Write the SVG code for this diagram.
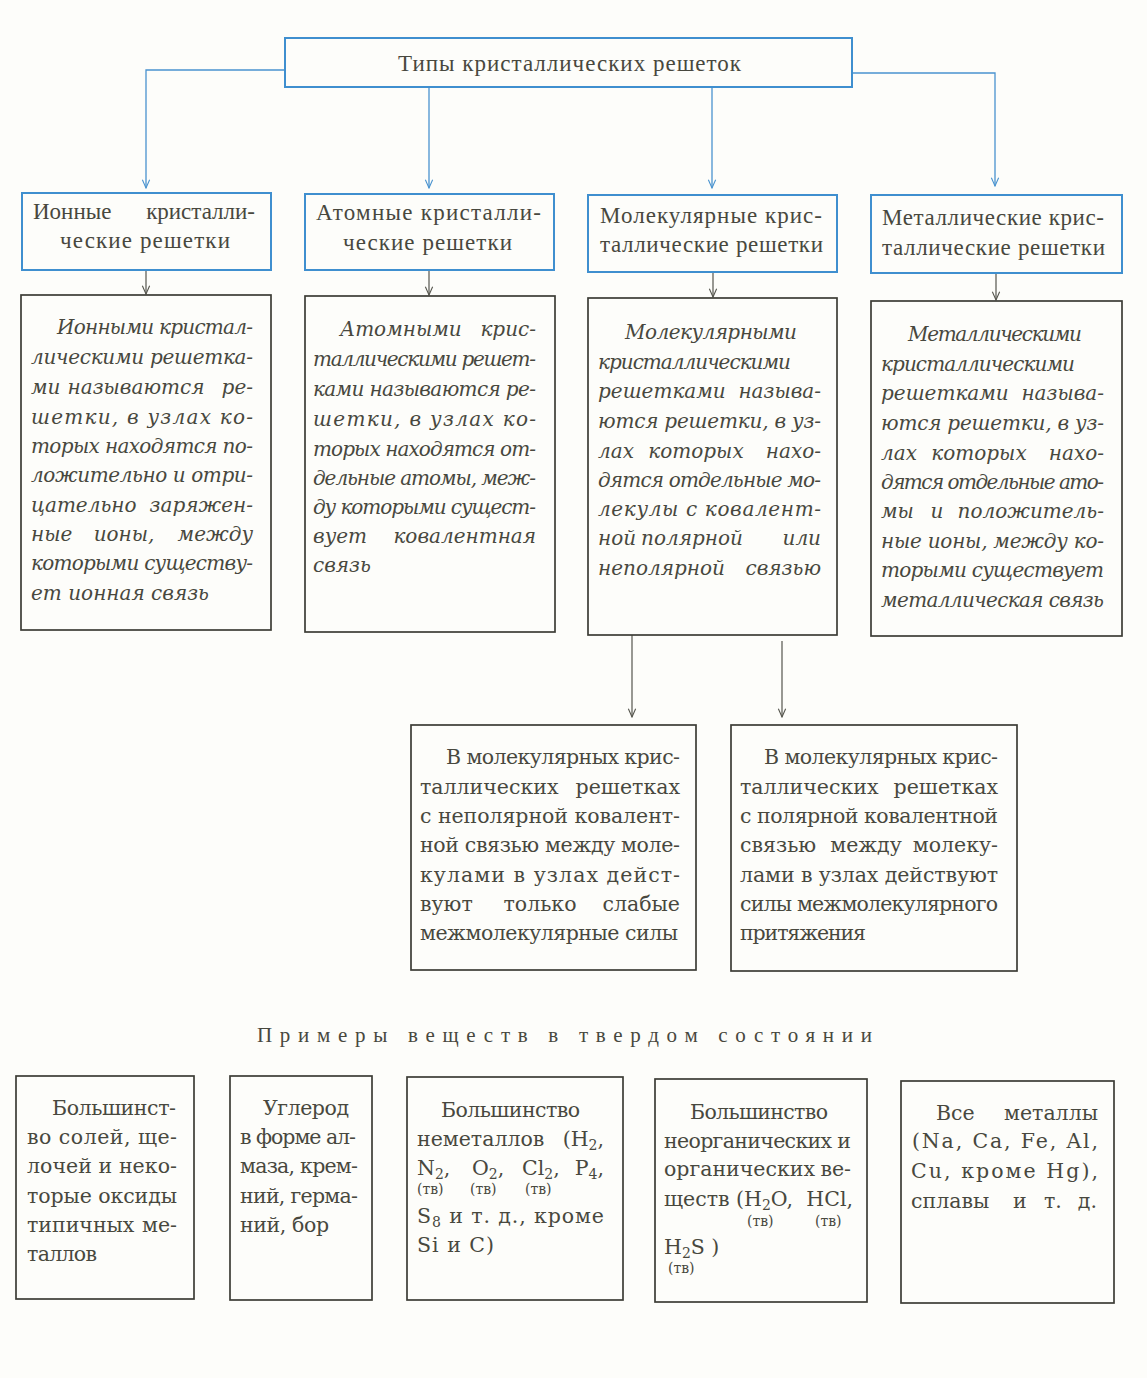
<svg xmlns="http://www.w3.org/2000/svg" width="1147" height="1378" viewBox="0 0 1147 1378">
<style>
.bg{fill:#fdfdfa}
.bb{fill:none;stroke:#3f8fcf;stroke-width:2}
.kb{fill:none;stroke:#3c3c35;stroke-width:1.7}
.bl{fill:none;stroke:#4a93cf;stroke-width:1.3}
.gl{fill:none;stroke:#55554d;stroke-width:1.2}
text{fill:#48483e}
.hd{font-family:"Liberation Serif",serif;font-size:23px}
.it{font-family:"DejaVu Serif",serif;font-style:italic;font-size:20px}
.rm{font-family:"DejaVu Serif",serif;font-size:20.5px}
.sub{font-size:14px}
.sm{font-family:"DejaVu Serif",serif;font-size:14px}
.ti{font-family:"Liberation Serif",serif;font-size:21px}
</style>
<defs>
<marker id="ab" viewBox="-1 -5 11 10" refX="9" refY="0" markerWidth="10" markerHeight="10" markerUnits="userSpaceOnUse" orient="auto">
<path d="M0,-4 L9,0 L0,4" fill="none" stroke="#4a93cf" stroke-width="1.2"/>
</marker>
<marker id="ag" viewBox="-1 -5 11 10" refX="9" refY="0" markerWidth="10" markerHeight="10" markerUnits="userSpaceOnUse" orient="auto">
<path d="M0,-4 L9,0 L0,4" fill="none" stroke="#55554d" stroke-width="1.2"/>
</marker>
</defs>
<rect class="bg" x="0" y="0" width="1147" height="1378"/>

<g id="connectors">
<path class="bl" d="M285,70 H146 V188" marker-end="url(#ab)"/>
<path class="bl" d="M429,87 V188" marker-end="url(#ab)"/>
<path class="bl" d="M712,87 V188" marker-end="url(#ab)"/>
<path class="bl" d="M852,73 H995 V186" marker-end="url(#ab)"/>
<path class="gl" d="M146,270 V294" marker-end="url(#ag)"/>
<path class="gl" d="M429,270 V295" marker-end="url(#ag)"/>
<path class="gl" d="M713,272 V297" marker-end="url(#ag)"/>
<path class="gl" d="M996,274 V300" marker-end="url(#ag)"/>
<path class="gl" d="M632,635 V717" marker-end="url(#ag)"/>
<path class="gl" d="M782,641 V717" marker-end="url(#ag)"/>
</g>

<g id="root">
<rect class="bb" x="285" y="38" width="567" height="49"/>
<text class="hd" x="398" y="71" textLength="343">Типы кристаллических решеток</text>
</g>

<g id="ionic-type">
<rect class="bb" x="22" y="193" width="249" height="77"/>
<text class="hd" y="219"><tspan x="33">Ионные</tspan><tspan x="255" text-anchor="end">кристалли-</tspan></text>
<text class="hd" x="60" y="248" textLength="170">ческие решетки</text>
</g>
<g id="atomic-type">
<rect class="bb" x="305" y="194" width="249" height="76"/>
<text class="hd" x="316" y="220" textLength="225">Атомные кристалли-</text>
<text class="hd" x="343" y="250" textLength="169">ческие решетки</text>
</g>
<g id="molecular-type">
<rect class="bb" x="588" y="195" width="249" height="77"/>
<text class="hd" x="600" y="223" textLength="222">Молекулярные крис-</text>
<text class="hd" x="600" y="252" textLength="223">таллические решетки</text>
</g>
<g id="metallic-type">
<rect class="bb" x="871" y="195" width="251" height="78"/>
<text class="hd" x="882" y="225" textLength="222">Металлические крис-</text>
<text class="hd" x="882" y="255" textLength="223">таллические решетки</text>
</g>

<g id="ionic-def">
<rect class="kb" x="21" y="295" width="250" height="335"/>
<text class="it" x="57" y="334" textLength="196">Ионными кристал-</text>
<text class="it" x="31" y="364" textLength="222">лическими решетка-</text>
<text class="it" y="394"><tspan x="31">ми</tspan><tspan x="136" text-anchor="middle">называются</tspan><tspan x="253" text-anchor="end">ре-</tspan></text>
<text class="it" x="31" y="424" textLength="222">шетки, в узлах ко-</text>
<text class="it" x="31" y="453" textLength="222">торых находятся по-</text>
<text class="it" x="31" y="482" textLength="222">ложительно и отри-</text>
<text class="it" y="512"><tspan x="31">цательно</tspan><tspan x="253" text-anchor="end">заряжен-</tspan></text>
<text class="it" y="541"><tspan x="31">ные</tspan><tspan x="124" text-anchor="middle">ионы,</tspan><tspan x="253" text-anchor="end">между</tspan></text>
<text class="it" x="31" y="570" textLength="222">которыми существу-</text>
<text class="it" x="31" y="600" textLength="178">ет ионная связь</text>
</g>

<g id="atomic-def">
<rect class="kb" x="305" y="296" width="250" height="336"/>
<text class="it" y="336"><tspan x="340">Атомными</tspan><tspan x="536" text-anchor="end">крис-</tspan></text>
<text class="it" x="313" y="366" textLength="223">таллическими решет-</text>
<text class="it" x="313" y="396" textLength="223">ками называются ре-</text>
<text class="it" x="313" y="426" textLength="223">шетки, в узлах ко-</text>
<text class="it" x="313" y="456" textLength="223">торых находятся от-</text>
<text class="it" x="313" y="485" textLength="223">дельные атомы, меж-</text>
<text class="it" x="313" y="514" textLength="223">ду которыми сущест-</text>
<text class="it" y="543"><tspan x="313">вует</tspan><tspan x="536" text-anchor="end">ковалентная</tspan></text>
<text class="it" x="313" y="572">связь</text>
</g>

<g id="molecular-def">
<rect class="kb" x="588" y="298" width="249" height="337"/>
<text class="it" x="625" y="339" textLength="172">Молекулярными</text>
<text class="it" x="598" y="369" textLength="193">кристаллическими</text>
<text class="it" y="398"><tspan x="598">решетками</tspan><tspan x="821" text-anchor="end">называ-</tspan></text>
<text class="it" x="598" y="428" textLength="223">ются решетки, в уз-</text>
<text class="it" y="458"><tspan x="598">лах</tspan><tspan x="696" text-anchor="middle">которых</tspan><tspan x="821" text-anchor="end">нахо-</tspan></text>
<text class="it" x="598" y="487" textLength="223">дятся отдельные мо-</text>
<text class="it" x="598" y="516" textLength="223">лекулы с ковалент-</text>
<text class="it" y="545"><tspan x="598">ной</tspan><tspan x="692" text-anchor="middle">полярной</tspan><tspan x="821" text-anchor="end">или</tspan></text>
<text class="it" y="575"><tspan x="598">неполярной</tspan><tspan x="821" text-anchor="end">связью</tspan></text>
</g>

<g id="metallic-def">
<rect class="kb" x="871" y="301" width="251" height="335"/>
<text class="it" x="908" y="341" textLength="174">Металлическими</text>
<text class="it" x="881" y="371" textLength="194">кристаллическими</text>
<text class="it" y="400"><tspan x="881">решетками</tspan><tspan x="1104" text-anchor="end">называ-</tspan></text>
<text class="it" x="881" y="430" textLength="223">ются решетки, в уз-</text>
<text class="it" y="460"><tspan x="881">лах</tspan><tspan x="979" text-anchor="middle">которых</tspan><tspan x="1104" text-anchor="end">нахо-</tspan></text>
<text class="it" x="881" y="489" textLength="223">дятся отдельные ато-</text>
<text class="it" y="518"><tspan x="881">мы</tspan><tspan x="937" text-anchor="middle">и</tspan><tspan x="1104" text-anchor="end">положитель-</tspan></text>
<text class="it" x="881" y="548" textLength="223">ные ионы, между ко-</text>
<text class="it" x="881" y="577" textLength="223">торыми существует</text>
<text class="it" x="881" y="607" textLength="223">металлическая связь</text>
</g>

<g id="nonpolar">
<rect class="kb" x="411" y="725" width="285" height="245"/>
<text class="rm" x="446" y="764" textLength="234">В молекулярных крис-</text>
<text class="rm" y="794"><tspan x="420">таллических</tspan><tspan x="680" text-anchor="end">решетках</tspan></text>
<text class="rm" x="420" y="823" textLength="260">с неполярной ковалент-</text>
<text class="rm" x="420" y="852" textLength="260">ной связью между моле-</text>
<text class="rm" x="420" y="882" textLength="260">кулами в узлах дейст-</text>
<text class="rm" y="911"><tspan x="420">вуют</tspan><tspan x="540" text-anchor="middle">только</tspan><tspan x="680" text-anchor="end">слабые</tspan></text>
<text class="rm" x="420" y="940" textLength="258">межмолекулярные силы</text>
</g>

<g id="polar">
<rect class="kb" x="731" y="725" width="286" height="246"/>
<text class="rm" x="764" y="764" textLength="234">В молекулярных крис-</text>
<text class="rm" y="794"><tspan x="740">таллических</tspan><tspan x="998" text-anchor="end">решетках</tspan></text>
<text class="rm" x="740" y="823" textLength="258">с полярной ковалентной</text>
<text class="rm" y="852"><tspan x="740">связью</tspan><tspan x="866" text-anchor="middle">между</tspan><tspan x="998" text-anchor="end">молеку-</tspan></text>
<text class="rm" x="740" y="882" textLength="258">лами в узлах действуют</text>
<text class="rm" x="740" y="911" textLength="258">силы межмолекулярного</text>
<text class="rm" x="740" y="940" textLength="126">притяжения</text>
</g>

<g id="examples-title">
<text class="ti" x="257" y="1042" textLength="615">Примеры веществ в твердом состоянии</text>
</g>

<g id="ex-ionic">
<rect class="kb" x="16" y="1076" width="178" height="223"/>
<text class="rm" x="52" y="1115" textLength="124">Большинст-</text>
<text class="rm" x="27" y="1144" textLength="150">во солей, ще-</text>
<text class="rm" x="27" y="1173" textLength="150">лочей и неко-</text>
<text class="rm" x="27" y="1203" textLength="150">торые оксиды</text>
<text class="rm" y="1232"><tspan x="27">типичных</tspan><tspan x="177" text-anchor="end">ме-</tspan></text>
<text class="rm" x="27" y="1261" textLength="70">таллов</text>
</g>

<g id="ex-atomic">
<rect class="kb" x="230" y="1076" width="142" height="224"/>
<text class="rm" x="263" y="1115" textLength="86">Углерод</text>
<text class="rm" x="240" y="1144" textLength="116">в форме ал-</text>
<text class="rm" x="240" y="1173" textLength="118">маза, крем-</text>
<text class="rm" x="240" y="1203" textLength="118">ний, герма-</text>
<text class="rm" x="240" y="1232" textLength="89">ний, бор</text>
</g>

<g id="ex-molecular-nonpolar">
<rect class="kb" x="407" y="1077" width="216" height="223"/>
<text class="rm" x="441" y="1117" textLength="139">Большинство</text>
<text class="rm" y="1146"><tspan x="417">неметаллов</tspan><tspan x="604" text-anchor="end">(H<tspan class="sub" dy="4">2</tspan><tspan dy="-4">,</tspan></tspan></text>
<text class="rm" y="1175"><tspan x="417">N<tspan class="sub" dy="4">2</tspan><tspan dy="-4">,</tspan></tspan><tspan x="472">O<tspan class="sub" dy="4">2</tspan><tspan dy="-4">,</tspan></tspan><tspan x="522">Cl<tspan class="sub" dy="4">2</tspan><tspan dy="-4">,</tspan></tspan><tspan x="604" text-anchor="end">P<tspan class="sub" dy="4">4</tspan><tspan dy="-4">,</tspan></tspan></text>
<text class="sm" x="417" y="1194">(тв)</text>
<text class="sm" x="470" y="1194">(тв)</text>
<text class="sm" x="525" y="1194">(тв)</text>
<text class="rm" x="417" y="1223" textLength="187">S<tspan class="sub" dy="4">8</tspan><tspan dy="-4"> и т. д., кроме</tspan></text>
<text class="rm" x="417" y="1252" textLength="77">Si и C)</text>
</g>

<g id="ex-molecular-polar">
<rect class="kb" x="655" y="1079" width="212" height="223"/>
<text class="rm" x="690" y="1119" textLength="138">Большинство</text>
<text class="rm" x="664" y="1148" textLength="187">неорганических и</text>
<text class="rm" y="1176"><tspan x="664">органических</tspan><tspan x="851" text-anchor="end">ве-</tspan></text>
<text class="rm" y="1206"><tspan x="664">ществ</tspan><tspan x="736">(H<tspan class="sub" dy="4">2</tspan><tspan dy="-4">O,</tspan></tspan><tspan x="853" text-anchor="end">HCl,</tspan></text>
<text class="sm" x="747" y="1226">(тв)</text>
<text class="sm" x="815" y="1226">(тв)</text>
<text class="rm" x="664" y="1254">H<tspan class="sub" dy="4">2</tspan><tspan dy="-4">S )</tspan></text>
<text class="sm" x="668" y="1273">(тв)</text>
</g>

<g id="ex-metallic">
<rect class="kb" x="901" y="1081" width="213" height="222"/>
<text class="rm" y="1120"><tspan x="936">Все</tspan><tspan x="1098" text-anchor="end">металлы</tspan></text>
<text class="rm" x="912" y="1148" textLength="186">(Na, Ca, Fe, Al,</text>
<text class="rm" x="911" y="1178" textLength="187">Cu, кроме Hg),</text>
<text class="rm" y="1208"><tspan x="911">сплавы</tspan><tspan x="1013">и</tspan><tspan x="1044">т.</tspan><tspan x="1097" text-anchor="end">д.</tspan></text>
</g>
</svg>
